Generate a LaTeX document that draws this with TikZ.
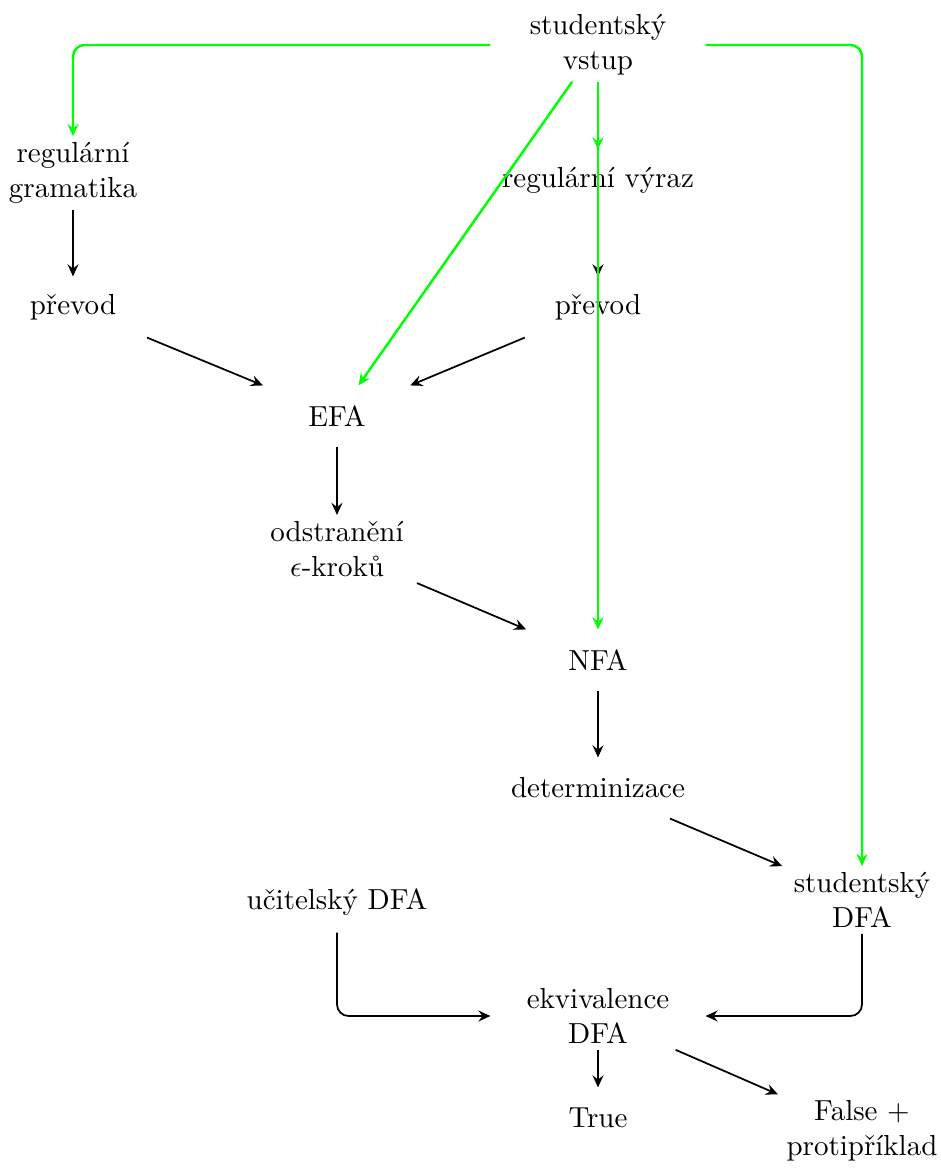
\documentclass[tikz,border=0pt]{standalone}
\usetikzlibrary{arrows.meta}
\definecolor{brightgreen}{RGB}{0,255,0}
\begin{document}
\begin{tikzpicture}[x=0.345pt,y=-0.345pt,
  box/.style={align=center, minimum width=73.8pt, minimum height=20.7pt, inner sep=2pt},
  arr/.style={-{Stealth[length=4.2pt,width=3.8pt,inset=1.5pt]}, line width=0.6pt, black},
  garr/.style={arr, draw=brightgreen, line width=0.85pt, rounded corners=4pt},
  karr/.style={arr, rounded corners=4pt}]
\useasboundingbox (0,0) rectangle (941,1168);
\node[box] (vstup) at (598,45) {studentský\\vstup};
\node[box] (gram) at (73,173) {regulární\\gramatika};
\node[box] (regex) at (598,180) {regulární výraz};
\node[box] (prevodA) at (73,307) {převod};
\node[box] (prevodB) at (598,307) {převod};
\node[box] (efa) at (337,416) {EFA};
\node[box] (odstr) at (337,549) {odstranění\\$\epsilon$-kroků};
\node[box] (nfa) at (598,660) {NFA};
\node[box] (det) at (598,788) {determinizace};
\node[box] (sdfa) at (862,900) {studentský\\DFA};
\node[box] (udfa) at (337,902) {učitelský DFA};
\node[box] (ekv) at (598,1016) {ekvivalence\\DFA};
\node[box] (true) at (598,1118) {True};
\node[box] (false) at (862,1131) {False +\\protipříklad};
% black connectors
\draw[arr] (gram) -- (prevodA);
\draw[arr] (regex) -- (prevodB);
\draw[arr] (prevodA) -- (efa);
\draw[arr] (prevodB) -- (efa);
\draw[arr] (efa) -- (odstr);
\draw[arr] (odstr) -- (nfa);
\draw[arr] (nfa) -- (det);
\draw[arr] (det) -- (sdfa);
\draw[karr] (udfa.south) |- (ekv.west);
\draw[karr] (sdfa.south) |- (ekv.east);
\draw[arr] (ekv) -- (true);
\draw[arr] (ekv) -- (false);
% green connectors
\draw[garr] (vstup.west) -| (gram.north);
\draw[garr] (vstup.east) -| (sdfa.north);
\draw[garr] (vstup) -- (efa);
\draw[garr] (vstup) -- (regex);
\draw[garr] (vstup) -- (nfa);
\end{tikzpicture}
\end{document}
